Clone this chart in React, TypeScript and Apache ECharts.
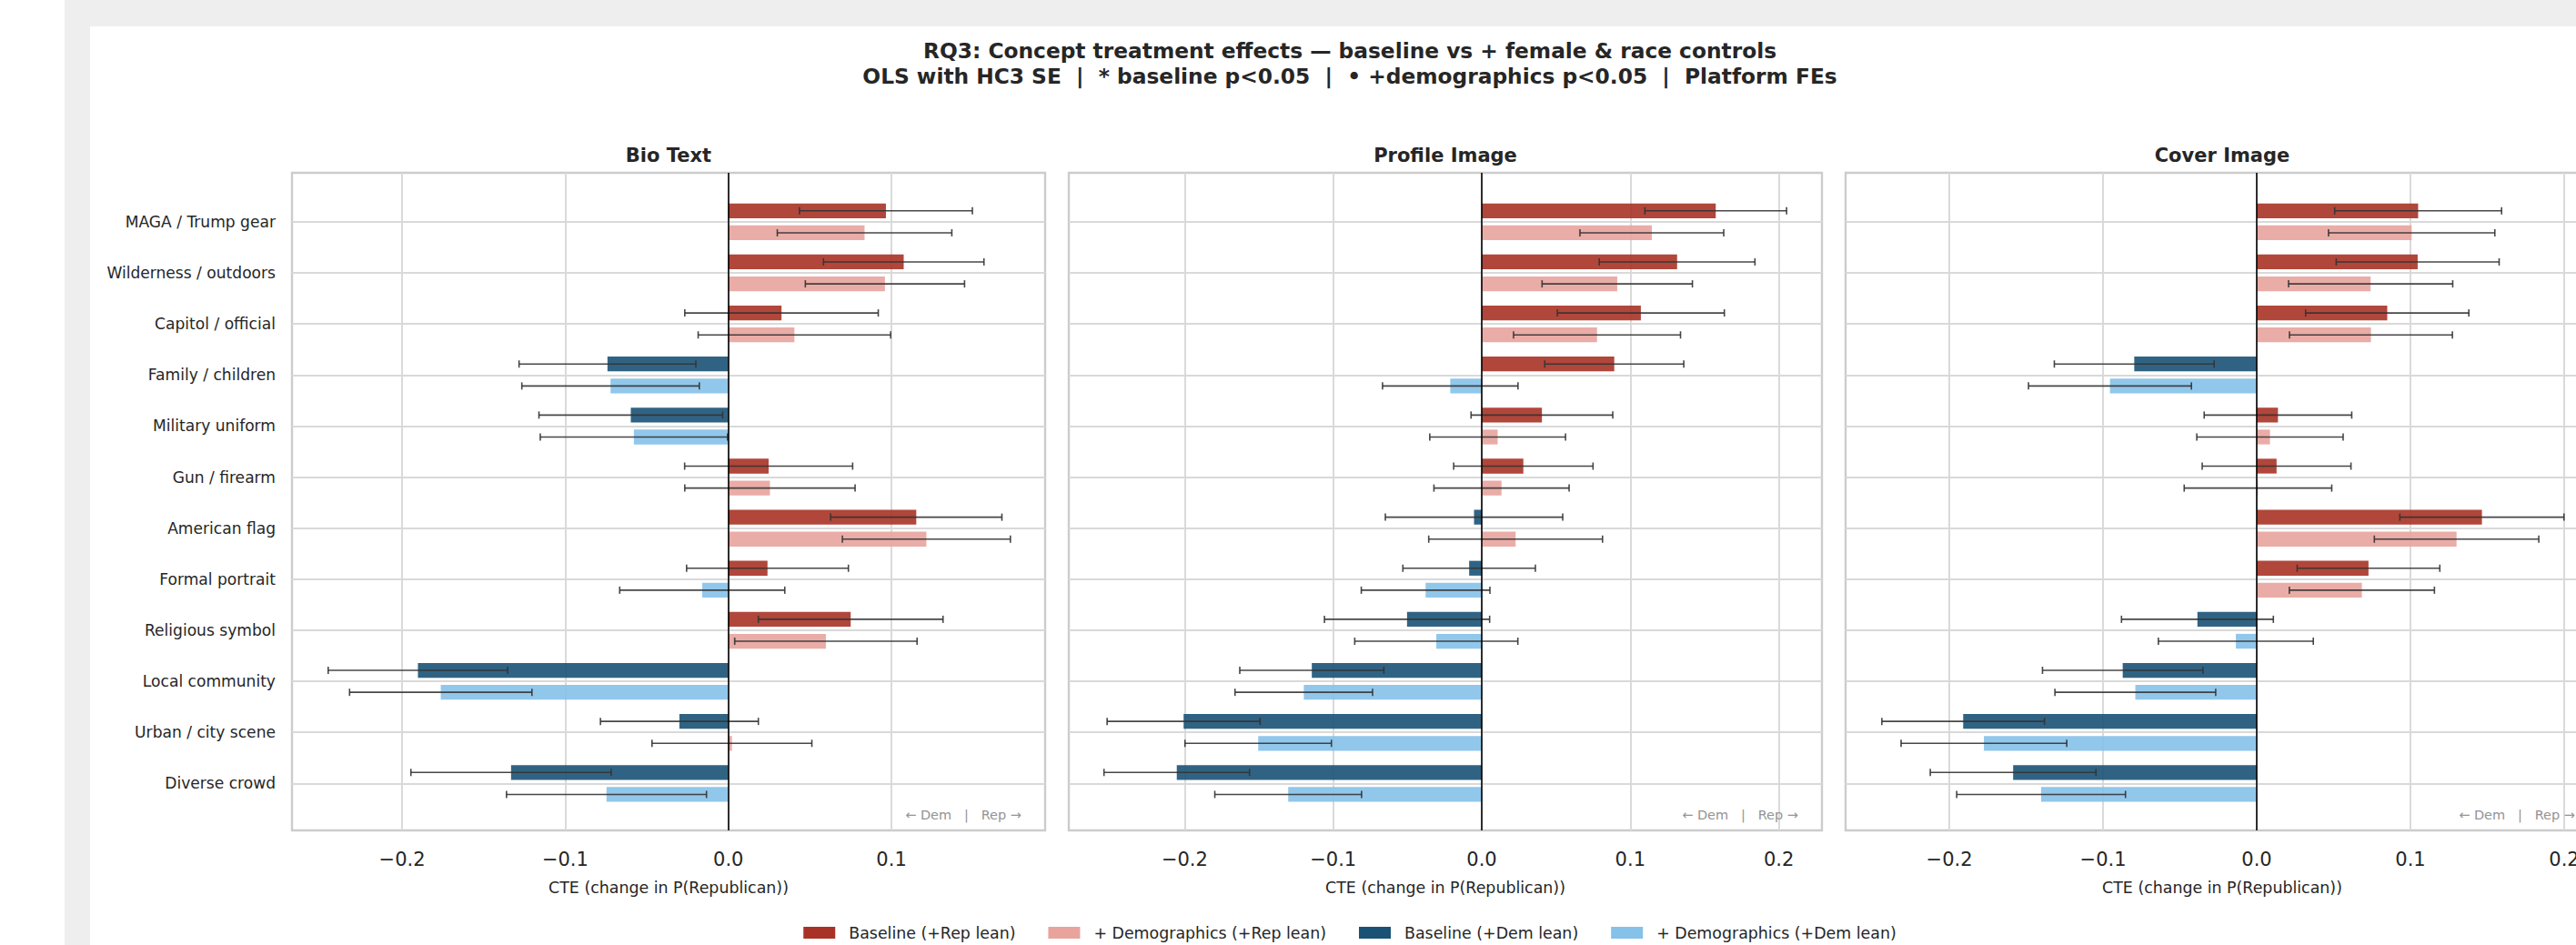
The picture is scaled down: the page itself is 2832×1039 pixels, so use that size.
import React, { useEffect, useRef } from 'react';
import * as echarts from 'echarts';

// ---------- data ----------
const CATEGORIES = [
  'MAGA / Trump gear',
  'Wilderness / outdoors',
  'Capitol / official',
  'Family / children',
  'Military uniform',
  'Gun / firearm',
  'American flag',
  'Formal portrait',
  'Religious symbol',
  'Local community',
  'Urban / city scene',
  'Diverse crowd',
];
const PANEL_TITLES = ['Bio Text', 'Profile Image', 'Cover Image'];
const LEGEND_NAMES = [
  'Baseline (+Rep lean)',
  '+ Demographics (+Rep lean)',
  'Baseline (+Dem lean)',
  '+ Demographics (+Dem lean)',
];
const X_TICKS = [-0.2, -0.1, 0, 0.1, 0.2];
const X_MIN = [-0.2675, -0.278, -0.2675];
const X_MAX = [0.1942, 0.229, 0.2225];

// Bio Text
const BIO_BASE = [0.0966, 0.1075, 0.0326, -0.0741, -0.0598, 0.0247, 0.1152, 0.024, 0.075, -0.1903, -0.03, -0.1332];
const BIO_BASE_ERR = [0.053, 0.0492, 0.0593, 0.0542, 0.0563, 0.0515, 0.0525, 0.0496, 0.0566, 0.055, 0.0484, 0.0614];
const BIO_DEMO = [0.0835, 0.096, 0.0405, -0.0722, -0.0579, 0.0255, 0.1214, -0.016, 0.0598, -0.1763, 0.0022, -0.0747];
const BIO_DEMO_ERR = [0.0535, 0.0488, 0.059, 0.0544, 0.0574, 0.0522, 0.0515, 0.0506, 0.0559, 0.0559, 0.049, 0.0613];
// Profile Image
const PROF_BASE = [0.1575, 0.1315, 0.1071, 0.0892, 0.0405, 0.028, -0.0052, -0.0085, -0.0503, -0.1144, -0.2007, -0.2053];
const PROF_BASE_ERR = [0.0477, 0.0524, 0.0562, 0.0468, 0.0477, 0.0469, 0.0597, 0.0446, 0.0556, 0.0485, 0.0515, 0.049];
const PROF_DEMO = [0.1145, 0.0912, 0.0776, -0.0212, 0.0107, 0.0133, 0.0228, -0.0378, -0.0306, -0.1198, -0.1505, -0.1303];
const PROF_DEMO_ERR = [0.0484, 0.0506, 0.0562, 0.0456, 0.0457, 0.0455, 0.0585, 0.0433, 0.0549, 0.0463, 0.0493, 0.0494];
// Cover Image
const COV_BASE = [0.105, 0.1047, 0.0849, -0.0797, 0.0138, 0.0129, 0.1465, 0.0727, -0.0386, -0.0872, -0.191, -0.1585];
const COV_BASE_ERR = [0.0543, 0.053, 0.0531, 0.052, 0.048, 0.0484, 0.0534, 0.0464, 0.0494, 0.0522, 0.0529, 0.0539];
const COV_DEMO = [0.1008, 0.0741, 0.0743, -0.0955, 0.0086, 0.0008, 0.13, 0.0684, -0.0136, -0.079, -0.1775, -0.1403];
const COV_DEMO_ERR = [0.0541, 0.0534, 0.053, 0.053, 0.0476, 0.048, 0.0535, 0.0472, 0.0504, 0.0523, 0.0539, 0.0549];

const BASE = [BIO_BASE, PROF_BASE, COV_BASE];
const BASE_ERR = [BIO_BASE_ERR, PROF_BASE_ERR, COV_BASE_ERR];
const DEMO = [BIO_DEMO, PROF_DEMO, COV_DEMO];
const DEMO_ERR = [BIO_DEMO_ERR, PROF_DEMO_ERR, COV_DEMO_ERR];

// ---------- style ----------
const FONT = 'DejaVu Sans';
const TEXT = '#262626';
const COLORS = ['#A93226', '#E8A39D', '#1A5276', '#85C1E9'];
const GRID_COLOR = '#d9d9d9';
const CHART_W = 2770;
const CHART_H = 1010;
const GRID_TOP = 161;
const GRID_H = 723;
const GRID_W = 828;
const GRID_LEFTS = [222, 1076, 1930];
const Y_MIN = -0.96;
const Y_MAX = 11.92;
const BAR_OFFSET = 0.215;
const BAR_HEIGHT = 0.29;

function makeRender(model: number, color: string) {
  return (params: any, api: any) => {
    const est = api.value(0);
    const idx = api.value(1);
    const err = api.value(2);
    const pos = idx + (model === 0 ? -BAR_OFFSET : BAR_OFFSET);
    const p0 = api.coord([0, pos]);
    const p1 = api.coord([est, pos]);
    const lo = api.coord([est - err, pos]);
    const hi = api.coord([est + err, pos]);
    const unit = Math.abs(api.coord([0, idx + 1])[1] - api.coord([0, idx])[1]);
    const h = BAR_HEIGHT * unit;
    const cap = 4;
    const es = { stroke: '#333333', lineWidth: 1.6, opacity: 0.9 };
    return {
      type: 'group',
      children: [
        {
          type: 'rect',
          shape: { x: Math.min(p0[0], p1[0]), y: p0[1] - h / 2, width: Math.abs(p1[0] - p0[0]), height: h },
          style: { fill: color, opacity: 0.9 },
        },
        { type: 'line', shape: { x1: lo[0], y1: lo[1], x2: hi[0], y2: hi[1] }, style: es },
        { type: 'line', shape: { x1: lo[0], y1: lo[1] - cap, x2: lo[0], y2: lo[1] + cap }, style: es },
        { type: 'line', shape: { x1: hi[0], y1: hi[1] - cap, x2: hi[0], y2: hi[1] + cap }, style: es },
      ],
    };
  };
}

function buildOption() {
  const grids: any[] = [];
  const xAxes: any[] = [];
  const yAxes: any[] = [];
  const series: any[] = [];
  const graphics: any[] = [];
  const catIdx = CATEGORIES.map((_, i) => i);

  graphics.push({
    type: 'text', x: CHART_W / 2, y: 26, silent: true,
    style: { text: 'RQ3: Concept treatment effects \u2014 baseline vs + female & race controls', fontFamily: FONT, fontSize: 23.3, fontWeight: 'bold', fill: TEXT, align: 'center', verticalAlign: 'middle' },
  });
  graphics.push({
    type: 'text', x: CHART_W / 2, y: 54, silent: true,
    style: { text: 'OLS with HC3 SE  |  * baseline p<0.05  |  \u2022 +demographics p<0.05  |  Platform FEs', fontFamily: FONT, fontSize: 23.3, fontWeight: 'bold', fill: TEXT, align: 'center', verticalAlign: 'middle' },
  });

  for (let p = 0; p < 3; p++) {
    const left = GRID_LEFTS[p];
    grids.push({
      left, top: GRID_TOP, width: GRID_W, height: GRID_H,
      show: true, borderColor: '#cccccc', borderWidth: 2.4, backgroundColor: '#ffffff',
      containLabel: false, outerBoundsMode: 'none',
    });
    xAxes.push({
      type: 'value', gridIndex: p, min: X_MIN[p], max: X_MAX[p],
      axisLine: { show: false },
      axisTick: { show: false, customValues: X_TICKS },
      axisLabel: {
        customValues: X_TICKS, margin: 21, fontFamily: FONT, fontSize: 21, color: TEXT,
        formatter: (v: number) => (v < -1e-9 ? '\u2212' : '') + Math.abs(v).toFixed(1),
      },
      splitLine: { show: true, lineStyle: { color: GRID_COLOR, width: 1.9 } },
      name: 'CTE (change in P(Republican))', nameLocation: 'middle', nameGap: 54,
      nameTextStyle: { fontFamily: FONT, fontSize: 17.4, color: TEXT },
    });
    yAxes.push({
      type: 'value', gridIndex: p, min: Y_MIN, max: Y_MAX, inverse: true,
      axisLine: { show: false },
      axisTick: { show: false, customValues: catIdx },
      axisLabel: {
        show: p === 0, customValues: catIdx, margin: 18, fontFamily: FONT, fontSize: 17.1, color: TEXT,
        formatter: (v: number) => CATEGORIES[Math.round(v)] ?? '',
      },
      splitLine: { show: true, lineStyle: { color: GRID_COLOR, width: 1.9 } },
    });

    const ests = [BASE[p], DEMO[p]];
    const errs = [BASE_ERR[p], DEMO_ERR[p]];
    for (let side = 0; side < 2; side++) {
      for (let m = 0; m < 2; m++) {
        const k = side * 2 + m;
        const data: number[][] = [];
        ests[m].forEach((v, i) => {
          if ((side === 0) === (v >= 0)) data.push([v, i, errs[m][i]]);
        });
        series.push({
          type: 'custom', name: LEGEND_NAMES[k], xAxisIndex: p, yAxisIndex: p,
          itemStyle: { color: COLORS[k] }, encode: { x: 0, y: 1 },
          data, renderItem: makeRender(m, COLORS[k]), z: 2, silent: true,
        });
      }
    }
    // zero reference line
    series.push({
      type: 'custom', name: 'zero-' + p, xAxisIndex: p, yAxisIndex: p,
      data: [[0, 0]], encode: { x: 0, y: 1 }, renderItem: () => null, z: 3, silent: true,
      markLine: {
        silent: true, symbol: ['none', 'none'], label: { show: false },
        lineStyle: { color: '#000000', width: 1.6, type: 'solid' },
        data: [{ xAxis: 0 }],
      },
    });

    graphics.push({
      type: 'text', x: left + GRID_W / 2, y: 142, silent: true,
      style: { text: PANEL_TITLES[p], fontFamily: FONT, fontSize: 21, fontWeight: 'bold', fill: TEXT, align: 'center', verticalAlign: 'middle' },
    });
    graphics.push({
      type: 'text', x: left + GRID_W - 26, y: GRID_TOP + GRID_H - 17, silent: true, z: 10,
      style: { text: '\u2190 Dem   |   Rep \u2192', fontFamily: FONT, fontSize: 14.5, fill: '#949494', align: 'right', verticalAlign: 'middle' },
    });
  }

  return {
    animation: false,
    backgroundColor: '#ffffff',
    grid: grids,
    xAxis: xAxes,
    yAxis: yAxes,
    series,
    graphic: graphics,
    legend: {
      data: LEGEND_NAMES, left: 'center', top: 988, padding: 0,
      itemWidth: 35, itemHeight: 13, itemGap: 36, icon: 'rect', selectedMode: false,
      textStyle: { fontFamily: FONT, fontSize: 17.4, color: TEXT, padding: [0, 0, 0, 10] },
    },
  };
}

export default function App() {
  const ref = useRef<HTMLDivElement>(null);
  useEffect(() => {
    if (!ref.current) return;
    const chart = echarts.init(ref.current, undefined, { renderer: 'svg' });
    chart.setOption(buildOption() as any);
    return () => chart.dispose();
  }, []);
  return (
    <div style={{ position: 'fixed', left: 0, top: 0, width: 2832, height: 1039, overflow: 'hidden', background: '#ffffff' }}>
      <div style={{ position: 'absolute', left: 71, top: 0, width: 2761, height: 1039, background: '#eeeeee' }} />
      <div ref={ref} style={{ position: 'absolute', left: 99, top: 29, width: CHART_W, height: CHART_H, background: '#ffffff' }} />
    </div>
  );
}
